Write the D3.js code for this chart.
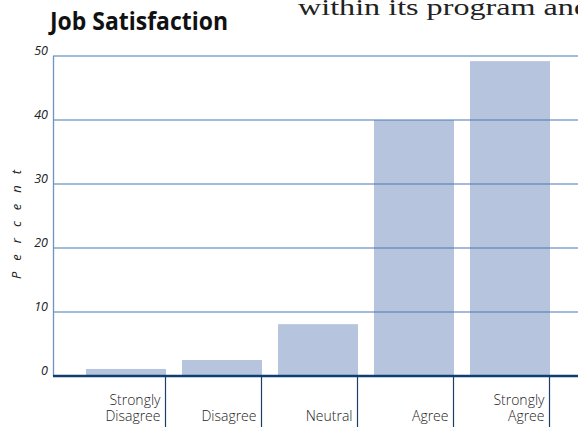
<!DOCTYPE html>
<html>
<head>
<meta charset="utf-8">
<script src="https://cdn.jsdelivr.net/npm/d3@7"></script>
<style>
  body { margin: 0; background: #fff; }
  svg { display: block; }
</style>
</head>
<body>
<svg id="chart" width="578" height="427"></svg>
<script>
// data
var categories = ["Strongly Disagree", "Disagree", "Neutral", "Agree", "Strongly Agree"];
var labelLines = [["Strongly", "Disagree"], ["Disagree"], ["Neutral"], ["Agree"], ["Strongly", "Agree"]];
var values = [1.1, 2.5, 8.1, 40, 49.2];
var yTicks = [0, 10, 20, 30, 40, 50];

var svg = d3.select("#chart");
var W = 578, H = 427;

var x = d3.scaleBand()
  .domain(categories)
  .range([78, 558])
  .paddingInner(1 / 6)
  .paddingOuter(1 / 12);

var y = d3.scaleLinear()
  .domain([0, 50])
  .range([376, 56]);

// body text fragment at top (runs off the right edge, like the page)
svg.append("text")
  .attr("x", 298)
  .attr("y", 15)
  .attr("font-family", "Liberation Serif, DejaVu Serif, serif")
  .attr("font-size", 23)
  .attr("textLength", 292)
  .attr("lengthAdjust", "spacingAndGlyphs")
  .attr("fill", "#222")
  .text("within its program and");

// title
svg.append("text")
  .attr("x", 50)
  .attr("y", 30)
  .attr("font-family", "Open Sans, sans-serif")
  .attr("font-weight", 700)
  .attr("font-size", 25)
  .attr("textLength", 178)
  .attr("lengthAdjust", "spacingAndGlyphs")
  .attr("fill", "#111")
  .text("Job Satisfaction");

// bars
svg.append("g")
  .selectAll("rect")
  .data(values)
  .enter()
  .append("rect")
  .attr("x", function(d, i) { return x(categories[i]); })
  .attr("width", x.bandwidth())
  .attr("y", function(d) { return y(d); })
  .attr("height", function(d) { return y(0) - y(d); })
  .attr("fill", "#b6c4dd");

// gridlines (sit over the bars, slightly see-through)
svg.append("g")
  .selectAll("line")
  .data(yTicks.filter(function(d) { return d > 0; }))
  .enter()
  .append("line")
  .attr("x1", 53)
  .attr("x2", W)
  .attr("y1", function(d) { return y(d); })
  .attr("y2", function(d) { return y(d); })
  .attr("stroke", "#4f7fb8")
  .attr("stroke-opacity", 0.7)
  .attr("stroke-width", 1.3);

// y axis line
svg.append("line")
  .attr("x1", 53.5).attr("x2", 53.5)
  .attr("y1", y(50)).attr("y2", y(0))
  .attr("stroke", "#6f93c2")
  .attr("stroke-width", 1.3);

// y tick labels
svg.append("g")
  .selectAll("text")
  .data(yTicks)
  .enter()
  .append("text")
  .attr("x", 48)
  .attr("y", function(d) { return y(d) - 1; })
  .attr("text-anchor", "end")
  .attr("font-family", "Open Sans, sans-serif")
  .attr("font-style", "italic")
  .attr("font-size", 12.5)
  .attr("fill", "#222")
  .text(function(d) { return d; });

// y axis title
svg.append("text")
  .attr("transform", "translate(21,219) rotate(-90)")
  .attr("text-anchor", "middle")
  .attr("font-family", "Open Sans, sans-serif")
  .attr("font-style", "italic")
  .attr("font-size", 13)
  .attr("letter-spacing", 11)
  .attr("fill", "#222")
  .text("Percent");

// category tick marks
svg.append("g")
  .selectAll("line")
  .data(categories)
  .enter()
  .append("line")
  .attr("x1", function(d) { return x(d) + x.bandwidth() - 0.5; })
  .attr("x2", function(d) { return x(d) + x.bandwidth() - 0.5; })
  .attr("y1", y(0))
  .attr("y2", H)
  .attr("stroke", "#1d3f66")
  .attr("stroke-width", 1.2);

// baseline
svg.append("line")
  .attr("x1", 53)
  .attr("x2", W)
  .attr("y1", y(0))
  .attr("y2", y(0))
  .attr("stroke", "#0e3f70")
  .attr("stroke-width", 2.6);

// category labels
var lab = svg.append("g")
  .selectAll("text")
  .data(categories)
  .enter()
  .append("text")
  .attr("text-anchor", "end")
  .attr("font-family", "Open Sans, sans-serif")
  .attr("font-weight", 300)
  .attr("font-size", 14)
  .attr("fill", "#222");

lab.each(function(d, i) {
  var lines = labelLines[i];
  var t = d3.select(this);
  var xe = x(d) + x.bandwidth() - 5.5;
  lines.forEach(function(s, j) {
    t.append("tspan")
      .attr("x", xe)
      .attr("y", 421 - (lines.length - 1 - j) * 16)
      .text(s);
  });
});
</script>
</body>
</html>
